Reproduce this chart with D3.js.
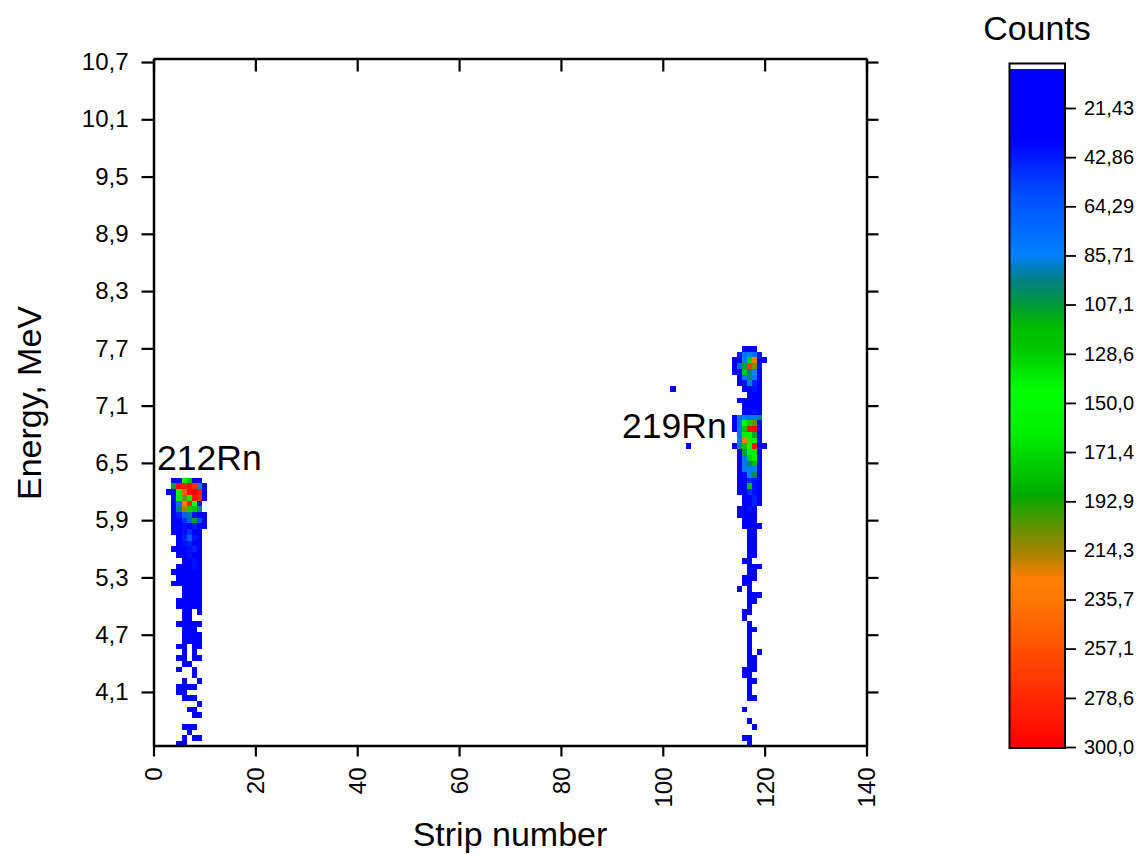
<!DOCTYPE html>
<html>
<head>
<meta charset="utf-8">
<script src="https://cdn.jsdelivr.net/npm/d3@7"></script>
<style>
  body { margin: 0; background: #fff; }
  text { font-family: "Liberation Sans", Arial, sans-serif; fill: #000; }
</style>
</head>
<body>
<div id="chart"></div>
<script>
const WIDTH = 1147
const HEIGHT = 854
const PLOT = { LEFT: 153.5, RIGHT: 866.5, TOP: 58.5, BOTTOM: 745.5 }

// energy histogram binning (MeV)
const BIN_START = 3.525
const BIN_WIDTH = 0.06

const xTicks = [0, 20, 40, 60, 80, 100, 120, 140]
const yTicks = [4.1, 4.7, 5.3, 5.9, 6.5, 7.1, 7.7, 8.3, 8.9, 9.5, 10.1, 10.7]
const yTickLabels = ["4,1", "4,7", "5,3", "5,9", "6,5", "7,1", "7,7", "8,3", "8,9", "9,5", "10,1", "10,7"]

// 212Rn spot: strips 3..10, rows from energy bin 46 down to bin 0
const rn212Strips = [3, 4, 5, 6, 7, 8, 9, 10]
const rn212TopBin = 46
const rn212Counts = [
  [0, 30, 40, 150, 120, 35, 25, 0],
  [0, 110, 295, 285, 290, 275, 90, 30],
  [30, 35, 150, 250, 290, 300, 285, 30],
  [0, 40, 140, 205, 160, 290, 280, 35],
  [0, 30, 80, 230, 280, 150, 40, 0],
  [0, 35, 95, 215, 130, 125, 95, 0],
  [0, 30, 45, 70, 95, 40, 30, 25],
  [0, 25, 35, 50, 70, 110, 60, 30],
  [0, 30, 30, 40, 35, 45, 30, 30],
  [0, 25, 35, 40, 50, 35, 30, 0],
  [0, 0, 30, 45, 70, 40, 30, 0],
  [0, 0, 30, 40, 45, 35, 30, 0],
  [0, 25, 30, 35, 40, 45, 30, 0],
  [0, 0, 25, 30, 40, 35, 30, 0],
  [0, 0, 0, 30, 35, 40, 25, 0],
  [0, 0, 25, 35, 30, 40, 30, 0],
  [0, 20, 30, 30, 35, 30, 25, 0],
  [0, 0, 25, 30, 35, 30, 30, 0],
  [0, 25, 30, 35, 30, 35, 25, 0],
  [0, 0, 0, 30, 35, 30, 25, 0],
  [0, 0, 0, 25, 30, 35, 30, 0],
  [0, 0, 25, 30, 30, 25, 30, 0],
  [0, 0, 20, 30, 35, 30, 25, 0],
  [0, 0, 0, 25, 30, 0, 30, 0],
  [0, 0, 0, 30, 25, 0, 0, 0],
  [0, 0, 25, 30, 30, 25, 20, 0],
  [0, 0, 0, 25, 30, 25, 0, 0],
  [0, 0, 0, 25, 30, 30, 25, 0],
  [0, 0, 0, 25, 30, 25, 20, 0],
  [0, 0, 20, 25, 0, 25, 20, 0],
  [0, 0, 0, 20, 0, 25, 0, 0],
  [0, 0, 20, 25, 0, 20, 25, 0],
  [0, 0, 0, 20, 25, 0, 0, 0],
  [0, 0, 20, 0, 0, 25, 0, 0],
  [0, 0, 0, 0, 0, 20, 0, 0],
  [0, 0, 0, 20, 0, 0, 20, 0],
  [0, 0, 20, 20, 20, 20, 0, 0],
  [0, 0, 20, 20, 0, 0, 0, 0],
  [0, 0, 0, 20, 20, 20, 0, 0],
  [0, 0, 0, 0, 0, 0, 20, 0],
  [0, 0, 0, 0, 20, 20, 0, 0],
  [0, 0, 0, 0, 0, 20, 20, 0],
  [0, 0, 0, 0, 0, 0, 0, 0],
  [0, 0, 0, 20, 20, 20, 0, 0],
  [0, 0, 0, 0, 20, 0, 0, 0],
  [0, 0, 0, 20, 0, 20, 20, 0],
  [0, 0, 20, 20, 0, 0, 0, 0]
]

// 219Rn spot: strips 113..121, rows from energy bin 69 down to bin 0
const rn219Strips = [113, 114, 115, 116, 117, 118, 119, 120, 121]
const rn219TopBin = 69
const rn219Counts = [
  [0, 0, 0, 30, 35, 30, 0, 0, 0],
  [0, 0, 45, 80, 85, 75, 40, 0, 0],
  [0, 30, 35, 85, 130, 230, 35, 30, 0],
  [0, 30, 70, 110, 270, 210, 40, 0, 0],
  [0, 25, 40, 125, 95, 85, 35, 0, 0],
  [0, 0, 35, 80, 100, 80, 30, 0, 0],
  [0, 0, 30, 40, 90, 45, 30, 0, 0],
  [0, 0, 0, 30, 35, 40, 30, 0, 0],
  [0, 0, 0, 0, 35, 30, 30, 0, 0],
  [0, 0, 30, 30, 35, 35, 30, 0, 0],
  [0, 0, 0, 30, 35, 30, 30, 0, 0],
  [0, 0, 0, 35, 30, 40, 30, 0, 0],
  [0, 30, 75, 85, 80, 80, 95, 0, 0],
  [0, 30, 80, 150, 175, 205, 40, 0, 0],
  [0, 30, 80, 120, 290, 295, 35, 0, 0],
  [0, 0, 75, 140, 160, 110, 35, 0, 0],
  [0, 0, 80, 230, 155, 150, 30, 0, 0],
  [0, 30, 95, 120, 150, 290, 35, 30, 0],
  [0, 0, 35, 110, 160, 165, 35, 0, 0],
  [0, 0, 35, 80, 130, 160, 30, 0, 0],
  [0, 0, 35, 80, 100, 120, 30, 0, 0],
  [0, 0, 30, 80, 85, 85, 30, 0, 0],
  [0, 0, 30, 40, 85, 100, 30, 0, 0],
  [0, 0, 30, 35, 45, 40, 30, 0, 0],
  [0, 0, 30, 35, 120, 40, 30, 0, 0],
  [0, 0, 30, 35, 50, 40, 30, 0, 0],
  [0, 0, 0, 30, 35, 45, 30, 0, 0],
  [0, 0, 0, 30, 35, 45, 30, 0, 0],
  [0, 0, 30, 35, 40, 30, 0, 0, 0],
  [0, 0, 30, 35, 30, 30, 0, 0, 0],
  [0, 0, 0, 30, 35, 30, 0, 0, 0],
  [0, 0, 0, 30, 30, 30, 30, 0, 0],
  [0, 0, 0, 0, 30, 30, 0, 0, 0],
  [0, 0, 0, 0, 25, 30, 0, 0, 0],
  [0, 0, 0, 0, 30, 25, 0, 0, 0],
  [0, 0, 0, 0, 30, 25, 0, 0, 0],
  [0, 0, 0, 0, 25, 30, 0, 0, 0],
  [0, 0, 0, 25, 30, 0, 0, 0, 0],
  [0, 0, 0, 0, 25, 30, 25, 0, 0],
  [0, 0, 0, 0, 25, 25, 0, 0, 0],
  [0, 0, 0, 25, 30, 25, 0, 0, 0],
  [0, 0, 0, 25, 25, 0, 0, 0, 0],
  [0, 0, 20, 0, 25, 0, 0, 0, 0],
  [0, 0, 0, 0, 25, 25, 25, 0, 0],
  [0, 0, 0, 0, 25, 20, 0, 0, 0],
  [0, 0, 0, 0, 25, 0, 0, 0, 0],
  [0, 0, 0, 20, 25, 0, 0, 0, 0],
  [0, 0, 0, 20, 0, 0, 0, 0, 0],
  [0, 0, 0, 0, 20, 0, 0, 0, 0],
  [0, 0, 0, 0, 20, 20, 0, 0, 0],
  [0, 0, 0, 0, 20, 0, 0, 0, 0],
  [0, 0, 0, 0, 20, 0, 0, 0, 0],
  [0, 0, 0, 0, 20, 0, 0, 0, 0],
  [0, 0, 0, 0, 20, 0, 20, 0, 0],
  [0, 0, 0, 0, 20, 20, 0, 0, 0],
  [0, 0, 0, 0, 20, 20, 0, 0, 0],
  [0, 0, 0, 20, 20, 20, 0, 0, 0],
  [0, 0, 0, 20, 20, 0, 0, 0, 0],
  [0, 0, 0, 0, 20, 20, 0, 0, 0],
  [0, 0, 0, 0, 20, 0, 0, 0, 0],
  [0, 0, 0, 0, 20, 0, 0, 0, 0],
  [0, 0, 0, 0, 20, 20, 0, 0, 0],
  [0, 0, 0, 0, 0, 0, 0, 0, 0],
  [0, 0, 0, 20, 0, 0, 0, 0, 0],
  [0, 0, 0, 0, 0, 0, 0, 0, 0],
  [0, 0, 0, 0, 20, 0, 0, 0, 0],
  [0, 0, 0, 0, 0, 20, 0, 0, 0],
  [0, 0, 0, 0, 0, 0, 0, 0, 0],
  [0, 0, 0, 20, 20, 0, 0, 0, 0],
  [0, 0, 0, 0, 20, 0, 0, 0, 0]
]

// lone hits: [strip, energy bin, counts]
const strayHits = [[102, 62, 30], [105, 52, 30]]

const countTicks = [21.43, 42.86, 64.29, 85.71, 107.1, 128.6, 150, 171.4, 192.9, 214.3, 235.7, 257.1, 278.6, 300]
const countTickLabels = ["21,43", "42,86", "64,29", "85,71", "107,1", "128,6", "150,0", "171,4", "192,9", "214,3", "235,7", "257,1", "278,6", "300,0"]

const colorStops = [0, 35, 60, 85, 97, 107, 117, 128, 145, 163, 190, 203, 216, 227, 237, 300]
const colorStopColors = ["#0000ff", "#0000ff", "#0050ff", "#0080ff", "#00807f", "#009a3a", "#00bb00", "#00cc00",
  "#00ff00", "#00f000", "#00aa00", "#5a9600", "#aa8200", "#ff8000", "#ff7600", "#ff0000"]

// flatten the spots into cells
const cells = []
function addSpot(strips, topBin, rows) {
  rows.forEach((row, i) => {
    row.forEach((c, j) => {
      if (c > 0) cells.push({ strip: strips[j], bin: topBin - i, counts: c })
    })
  })
}
addSpot(rn212Strips, rn212TopBin, rn212Counts)
addSpot(rn219Strips, rn219TopBin, rn219Counts)
strayHits.forEach(d => cells.push({ strip: d[0], bin: d[1], counts: d[2] }))

const svg = d3.select("#chart").append("svg")
  .attr("width", WIDTH)
  .attr("height", HEIGHT)

const x = d3.scaleLinear().domain([0, 140]).range([PLOT.LEFT, PLOT.RIGHT])
const y = d3.scaleLinear().domain([3.539, 10.737]).range([PLOT.BOTTOM, PLOT.TOP])
const color = d3.scaleLinear().domain(colorStops).range(colorStopColors).interpolate(d3.interpolateRgb).clamp(true)

svg.append("clipPath").attr("id", "plot-clip")
  .append("rect")
  .attr("x", PLOT.LEFT).attr("y", PLOT.TOP)
  .attr("width", PLOT.RIGHT - PLOT.LEFT).attr("height", PLOT.BOTTOM - PLOT.TOP)

svg.append("g")
  .attr("clip-path", "url(#plot-clip)")
  .attr("shape-rendering", "crispEdges")
  .selectAll("rect")
  .data(cells)
  .enter().append("rect")
  .attr("x", d => x(d.strip - 0.5))
  .attr("width", d => x(d.strip + 0.5) - x(d.strip - 0.5))
  .attr("y", d => y(BIN_START + BIN_WIDTH * (d.bin + 1)))
  .attr("height", d => y(BIN_START + BIN_WIDTH * d.bin) - y(BIN_START + BIN_WIDTH * (d.bin + 1)))
  .attr("fill", d => color(d.counts))

// axes
function styleAxis(g, size) {
  g.selectAll("path.domain").attr("stroke-width", 2.5)
  g.selectAll(".tick line").attr("stroke-width", 2.2)
  g.selectAll(".tick text").attr("font-size", size).attr("font-family", "Liberation Sans, Arial, sans-serif")
}

const yAxisLeft = svg.append("g")
  .attr("transform", `translate(${PLOT.LEFT},0)`)
  .call(d3.axisLeft(y).tickValues(yTicks).tickFormat((d, i) => yTickLabels[i]).tickSize(12).tickSizeOuter(0).tickPadding(13))
styleAxis(yAxisLeft, 24)

const yAxisRight = svg.append("g")
  .attr("transform", `translate(${PLOT.RIGHT},0)`)
  .call(d3.axisRight(y).tickValues(yTicks).tickFormat("").tickSize(12).tickSizeOuter(0))
styleAxis(yAxisRight, 24)

const xAxisTop = svg.append("g")
  .attr("transform", `translate(0,${PLOT.TOP})`)
  .call(d3.axisBottom(x).tickValues(xTicks).tickFormat("").tickSize(13).tickSizeOuter(0))
styleAxis(xAxisTop, 24)

const xAxisBottom = svg.append("g")
  .attr("transform", `translate(0,${PLOT.BOTTOM})`)
  .call(d3.axisBottom(x).tickValues(xTicks).tickSize(11).tickSizeOuter(0))
styleAxis(xAxisBottom, 24)
xAxisBottom.selectAll(".tick text")
  .attr("transform", "rotate(-90)")
  .attr("text-anchor", "end")
  .attr("x", -22)
  .attr("y", 0)
  .attr("dy", "0.35em")

// axis titles
svg.append("text")
  .attr("x", 510)
  .attr("y", 846)
  .attr("text-anchor", "middle")
  .attr("font-size", 34)
  .text("Strip number")

svg.append("text")
  .attr("transform", "translate(41,403) rotate(-90)")
  .attr("text-anchor", "middle")
  .attr("font-size", 34)
  .text("Energy, MeV")

// isotope labels
svg.append("text")
  .attr("x", x(0.7))
  .attr("y", y(6.426))
  .attr("font-size", 35.5)
  .text("212Rn")

svg.append("text")
  .attr("x", x(92.0))
  .attr("y", y(6.758))
  .attr("font-size", 35.5)
  .text("219Rn")

// colour bar
const BAR = { LEFT: 1009.5, RIGHT: 1065, TOP: 63.5, BOTTOM: 748 }
const barScale = d3.scaleLinear().domain([21.43, 300]).range([108, 747])

svg.append("g")
  .attr("shape-rendering", "crispEdges")
  .selectAll("rect")
  .data(d3.range(Math.floor(BAR.TOP), Math.ceil(BAR.BOTTOM)))
  .enter().append("rect")
  .attr("x", BAR.LEFT)
  .attr("width", BAR.RIGHT - BAR.LEFT)
  .attr("y", d => d)
  .attr("height", 1.2)
  .attr("fill", d => {
    const v = barScale.invert(d + 0.5)
    return v < 4.3 ? "#ffffff" : color(v)
  })

svg.append("rect")
  .attr("x", BAR.LEFT)
  .attr("y", BAR.TOP)
  .attr("width", BAR.RIGHT - BAR.LEFT)
  .attr("height", BAR.BOTTOM - BAR.TOP)
  .attr("fill", "none")
  .attr("stroke", "#000")
  .attr("stroke-width", 2)

const barAxis = svg.append("g")
  .attr("transform", `translate(${BAR.RIGHT},0)`)
  .call(d3.axisRight(barScale).tickValues(countTicks).tickFormat((d, i) => countTickLabels[i]).tickSize(11).tickPadding(8))
barAxis.select("path.domain").remove()
styleAxis(barAxis, 20)
barAxis.selectAll(".tick line").attr("stroke-width", 1.8)

svg.append("text")
  .attr("x", 1037)
  .attr("y", 40)
  .attr("text-anchor", "middle")
  .attr("font-size", 34)
  .text("Counts")
</script>
</body>
</html>
